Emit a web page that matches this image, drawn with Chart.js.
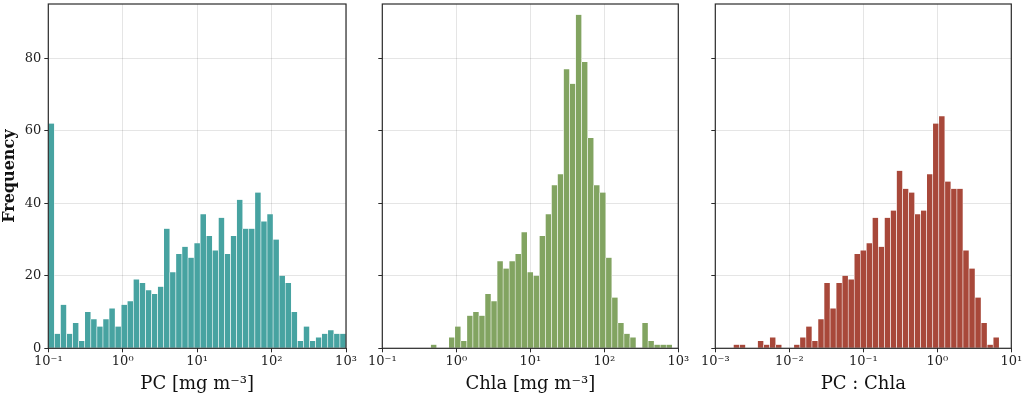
<!DOCTYPE html>
<html>
<head>
<meta charset="utf-8">
<script src="https://cdn.jsdelivr.net/npm/chart.js@4.4.1/dist/chart.umd.min.js"></script>
<style>
  html, body { margin: 0; padding: 0; background: #fff; }
  #wrap { position: relative; width: 1024px; height: 397px; }
  #wrap canvas { position: absolute; left: 0; top: 0; }
</style>
</head>
<body>
<div id="wrap">
  <canvas id="pcChart" width="1024" height="397"></canvas>
  <canvas id="chlChart" width="1024" height="397"></canvas>
  <canvas id="ratioChart" width="1024" height="397"></canvas>
</div>
<script>
// histogram counts, 49 log-spaced bins per panel
const pcCounts = [62, 4, 12, 4, 7, 2, 10, 8, 6, 8, 11, 6, 12, 13, 19, 18, 16, 15, 17, 33, 21, 26, 28, 25, 29,
    37, 31, 27, 36, 26, 31, 41, 33, 33, 43, 35, 37, 30, 20, 18, 10, 2, 6, 2, 3, 4, 5, 4, 4];
const chlCounts = [0, 0, 0, 0, 0, 0, 0, 0, 1, 0, 0, 3, 6, 2, 9, 10, 9, 15, 13, 24, 22, 24, 26, 32, 21,
    20, 31, 37, 45, 48, 77, 73, 92, 79, 58, 45, 43, 25, 14, 7, 4, 3, 0, 7, 2, 1, 1, 1, 0];
const ratioCounts = [0, 0, 0, 1, 1, 0, 0, 2, 1, 3, 1, 0, 0, 1, 3, 6, 2, 8, 18, 11, 18, 20, 19, 26, 27,
    29, 36, 28, 36, 38, 49, 44, 43, 37, 38, 48, 62, 64, 46, 44, 44, 27, 22, 14, 7, 1, 3, 0, 0];

// bin ranges (log10 of the edges) and axis ticks
const pcRange = [-1, 3];
const chlRange = [-1, 3];
const ratioRange = [-3, 1];
const pcTicks = [0.1, 1, 10, 100, 1000];
const chlTicks = [0.1, 1, 10, 100, 1000];
const ratioTicks = [0.001, 0.01, 0.1, 1, 10];
const yTicks = [0, 20, 40, 60, 80];

const SERIF = "'DejaVu Serif', 'Liberation Serif', serif";
const SUP = { '-': '⁻', '0': '⁰', '1': '¹', '2': '²', '3': '³' };

function powLabel(v) {
    const e = String(Math.round(Math.log10(v)));
    return '10' + e.split('').map(c => SUP[c]).join('');
}

// bin centres from log-spaced edges
function binPoints(counts, range) {
    const step = (range[1] - range[0]) / counts.length;
    return counts.map((c, i) => ({ x: Math.pow(10, range[0] + (i + 0.5) * step), y: c }));
}

// frame round the plot area
const framePlugin = {
    id: 'frame',
    afterDraw(chart) {
        const a = chart.chartArea;
        const ctx = chart.ctx;
        ctx.save();
        ctx.strokeStyle = '#2b2b2b';
        ctx.lineWidth = 1.2;
        ctx.strokeRect(a.left, a.top, a.right - a.left, a.bottom - a.top);
        ctx.restore();
    }
};

function makeHist(id, counts, range, ticks, color, title, opts) {
    const ctx = document.getElementById(id).getContext('2d');
    return new Chart(ctx, {
        type: 'bar',
        data: {
            datasets: [{
                data: binPoints(counts, range),
                backgroundColor: color,
                borderColor: '#ffffff',
                borderWidth: { left: 0.6, right: 0.6, top: 0, bottom: 0 },
                borderSkipped: false,
                categoryPercentage: 1,
                barPercentage: 1
            }]
        },
        options: {
            responsive: false,
            animation: false,
            devicePixelRatio: 1,
            layout: { padding: { left: opts.padLeft, right: opts.padRight, top: 4, bottom: 0 } },
            plugins: { legend: { display: false }, tooltip: { enabled: false } },
            scales: {
                x: {
                    type: 'logarithmic',
                    min: ticks[0],
                    max: ticks[ticks.length - 1],
                    offset: false,
                    afterBuildTicks: s => { s.ticks = ticks.map(v => ({ value: v })); },
                    afterFit: s => { s.height = 48.7; s.paddingLeft = 0; s.paddingRight = 0; },
                    grid: { offset: false, color: 'rgba(0,0,0,0.1)', tickColor: '#2b2b2b', tickLength: 4, lineWidth: 1 },
                    border: { display: false },
                    ticks: {
                        autoSkip: false,
                        maxRotation: 0,
                        padding: 2,
                        color: '#222',
                        font: { family: SERIF, size: 13 },
                        callback: v => powLabel(v)
                    },
                    title: {
                        display: true,
                        text: title,
                        color: '#111',
                        font: { family: SERIF, size: 18 },
                        padding: { top: 0, bottom: 2 }
                    }
                },
                y: {
                    min: 0,
                    max: 95,
                    afterBuildTicks: s => { s.ticks = yTicks.map(v => ({ value: v })); },
                    afterFit: s => { s.width = opts.yWidth; s.paddingTop = 0; s.paddingBottom = 0; },
                    grid: { color: 'rgba(0,0,0,0.1)', tickColor: '#2b2b2b', tickLength: 4, lineWidth: 1 },
                    border: { display: false },
                    ticks: {
                        padding: 3,
                        color: '#222',
                        font: { family: SERIF, size: 13 },
                        callback: v => opts.yLabels ? String(v) : ''
                    },
                    title: {
                        display: opts.yLabels,
                        text: 'Frequency',
                        color: '#111',
                        font: { family: SERIF, size: 16, weight: 'bold' },
                        padding: { top: 0, bottom: 0 }
                    }
                }
            }
        },
        plugins: [framePlugin]
    });
}

makeHist('pcChart', pcCounts, pcRange, pcTicks, '#47a3a1', 'PC [mg m⁻³]',
    { padLeft: 0, padRight: 1024 - 346, yWidth: 48.3, yLabels: true });
makeHist('chlChart', chlCounts, chlRange, chlTicks, '#82a461', 'Chla [mg m⁻³]',
    { padLeft: 352, padRight: 1024 - 678.3, yWidth: 30.3, yLabels: false });
makeHist('ratioChart', ratioCounts, ratioRange, ratioTicks, '#a8483a', 'PC : Chla',
    { padLeft: 684, padRight: 1024 - 1011.3, yWidth: 31.3, yLabels: false });
</script>
</body>
</html>
